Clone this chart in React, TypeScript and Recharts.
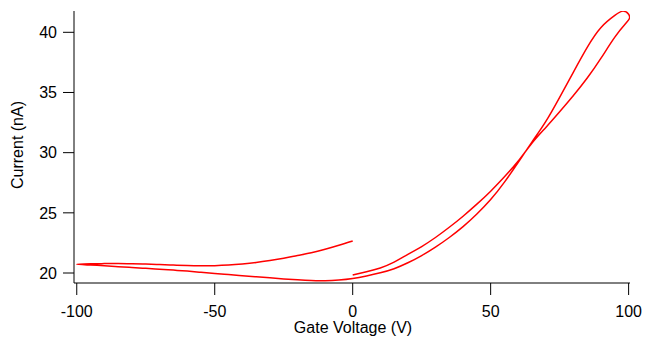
import { LineChart, Line, XAxis, YAxis } from "recharts";

// sweep 1: 0 V -> -100 V
const gateDown = [0, -5, -10, -15, -20, -25, -30, -35, -40, -45, -50, -55, -60, -65, -70, -75, -80, -85, -90, -95, -100];
const currentDown = [22.66, 22.3, 21.97, 21.68, 21.45, 21.22, 21.03, 20.87, 20.75, 20.66, 20.61, 20.6, 20.62, 20.66, 20.7, 20.74, 20.77, 20.79, 20.78, 20.76, 20.72];

// sweep 2: -100 V -> 100 V
const gateUp = [-95, -90, -85, -80, -75, -70, -65, -60, -55, -50, -45, -40, -35, -30, -25, -20, -15, -10, -5, 0, 5, 10, 15, 20, 25, 30, 35, 40, 45, 50, 55, 60, 65, 70, 75, 80, 85, 90, 95, 98, 100];
const currentUp = [20.66, 20.6, 20.53, 20.46, 20.39, 20.32, 20.24, 20.16, 20.06, 19.96, 19.87, 19.78, 19.69, 19.6, 19.51, 19.43, 19.37, 19.36, 19.42, 19.55, 19.76, 20.02, 20.36, 20.85, 21.45, 22.15, 22.95, 23.85, 24.9, 26.1, 27.55, 29.2, 30.9, 32.6, 34.6, 36.7, 38.75, 40.4, 41.4, 41.76, 41.5];

// sweep 3: 100 V -> 0 V
const gateBack = [100.3, 99, 95, 90, 85, 80, 75, 70, 65, 60, 55, 50, 45, 40, 35, 30, 25, 20, 15, 10, 5, 0];
const currentBack = [41.15, 40.75, 39.6, 37.85, 36.2, 34.75, 33.4, 32.1, 30.8, 29.3, 28.0, 26.8, 25.72, 24.72, 23.8, 22.95, 22.2, 21.55, 20.9, 20.42, 20.1, 19.83];

const xTicks = [-100, -50, 0, 50, 100];
const yTicks = [20, 25, 30, 35, 40];

const data = [
  ...gateDown.map((v, k) => ({ v, i: currentDown[k] })),
  ...gateUp.map((v, k) => ({ v, i: currentUp[k] })),
  ...gateBack.map((v, k) => ({ v, i: currentBack[k] })),
];

const font = "Arial, 'Liberation Sans', sans-serif";
const tickStyle = { fontSize: 16, fill: "#000", fontFamily: font };

const YLabel = () => (
  <text x={23} y={145} transform="rotate(-90 23 145)" textAnchor="middle" fontSize={16} fontFamily={font} fill="#000">
    Current (nA)
  </text>
);

const XLabel = () => (
  <text x={353} y={333} textAnchor="middle" fontSize={16} fontFamily={font} fill="#000">
    Gate Voltage (V)
  </text>
);

const App = () => {
  return (
    <div style={{ position: "absolute", left: 0, top: 0, width: 655, height: 339 }}>
      <LineChart width={655} height={339} data={data} margin={{ top: 11, right: 25, bottom: 0, left: 14 }}>
        <XAxis
          dataKey="v"
          type="number"
          domain={[-101, 100.5]}
          ticks={xTicks}
          allowDataOverflow
          tickSize={12}
          tickMargin={11}
          height={56}
          tick={tickStyle}
          stroke="#000"
          tickLine={{ stroke: "#000" }}
          label={<XLabel />}
        />
        <YAxis
          dataKey="i"
          type="number"
          domain={[19.17, 41.77]}
          ticks={yTicks}
          allowDataOverflow
          tickSize={11}
          tickMargin={6}
          width={60}
          tick={tickStyle}
          stroke="#000"
          tickLine={{ stroke: "#000" }}
          label={<YLabel />}
        />
        <Line
          type="natural"
          dataKey="i"
          stroke="#ff0000"
          strokeWidth={1.5}
          dot={false}
          activeDot={false}
          isAnimationActive={false}
        />
      </LineChart>
    </div>
  );
};

export default App;
